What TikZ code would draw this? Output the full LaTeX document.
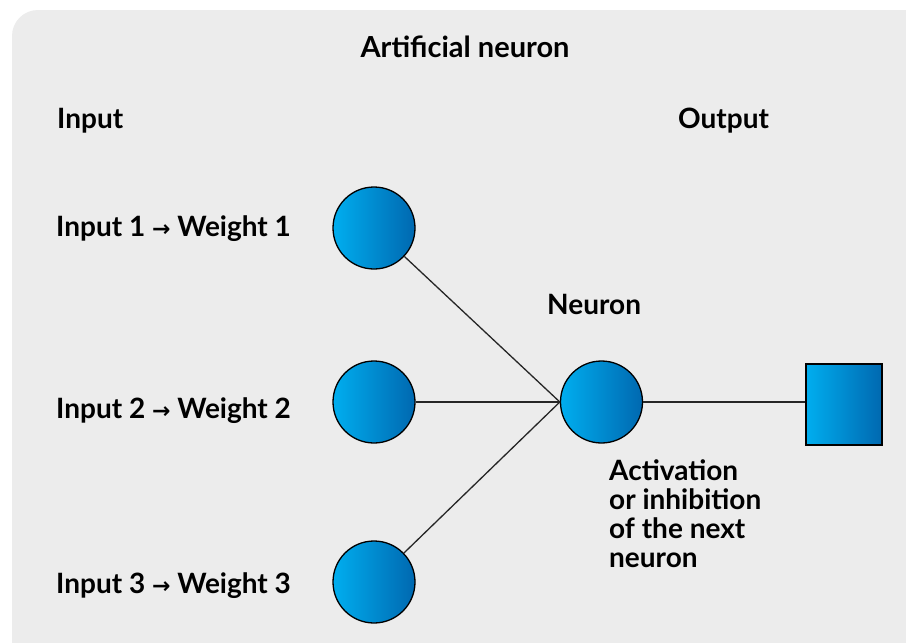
\documentclass[tikz,border=0pt]{standalone}
\usepackage{fontspec}
\setmainfont{Lato}
\newfontfamily\arrowfont{DejaVu Sans}
\definecolor{bgray}{HTML}{ECECEC}
\definecolor{gleft}{HTML}{00AEEF}
\definecolor{gright}{HTML}{0068B0}
\newcommand{\wtarrow}{{\arrowfont\bfseries\fontsize{22}{22}\selectfont →}}
\begin{document}
\begin{tikzpicture}[x=1pt,y=-1pt,
  lbl/.style={font=\bfseries\fontsize{28}{29}\selectfont, inner sep=0pt, anchor=base west},
  unit/.style={draw=black, line width=1.3pt, shading=axis, left color=gleft, right color=gright, shading angle=90},
  ball/.style={unit, circle, minimum size=82pt, inner sep=0pt},
  link/.style={line width=1.3pt, draw=black!85}]
\useasboundingbox (0,0) rectangle (906,643);
\fill[white] (0,0) rectangle (906,643);
\fill[bgray, rounded corners=26pt] (12,10) rectangle (940,680);
\node[lbl, anchor=base, font=\bfseries\fontsize{29}{29}\selectfont] (title) at (465,57) {Artificial neuron};
\node[lbl] (inlbl) at (57,128) {Input};
\node[lbl] (outlbl) at (678,128) {Output};
\node[lbl] (nlbl) at (547,314) {Neuron};
\node[lbl] (w1) at (56,236) {Input 1 \wtarrow{} Weight 1};
\node[lbl] (w2) at (56,418) {Input 2 \wtarrow{} Weight 2};
\node[lbl] (w3) at (56,593) {Input 3 \wtarrow{} Weight 3};
\node[lbl, anchor=north west, align=left] (act) at (609,459) {Activation\\or inhibition\\of the next\\neuron};
\node[ball] (i1) at (374,228) {};
\node[ball] (i2) at (374,402) {};
\node[ball] (i3) at (374,582) {};
\node[ball] (n) at (601.5,402) {};
\node[unit, rectangle, minimum width=76pt, minimum height=81pt, inner sep=0pt] (out) at (844,404.5) {};
\draw[link] (i1) -- (n.west);
\draw[link] (i2) -- (n.west);
\draw[link] (i3) -- (n.west);
\draw[link] (n.east) -- (n.east -| out.west);
\end{tikzpicture}
\end{document}
